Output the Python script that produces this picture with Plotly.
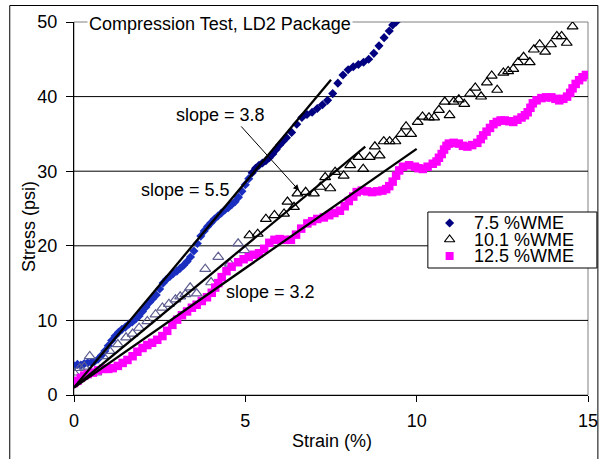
import plotly.graph_objects as go

# Compression test data, LD2 package: strain (%) vs stress (psi)
wme_75_strain = [0.00, 0.10, 0.20, 0.30, 0.40, 0.50, 0.60, 0.70, 0.80, 0.90,
                 1.00, 1.10, 1.20, 1.30, 1.40, 1.50, 1.60, 1.70, 1.80, 1.90,
                 2.00, 2.10, 2.20, 2.30, 2.40, 2.50, 2.60, 2.70, 2.80, 2.90,
                 3.00, 3.10, 3.20, 3.30, 3.40, 3.50, 3.60, 3.70, 3.80, 3.90,
                 4.00, 4.10, 4.20, 4.30, 4.40, 4.50, 4.60, 4.70, 4.80, 4.90,
                 5.00, 5.10, 5.20, 5.30, 5.40, 5.50, 5.60, 5.70, 5.80, 5.90,
                 6.00, 6.10, 6.20, 6.35, 6.50, 6.65, 6.80, 6.95, 7.10, 7.25,
                 7.40, 7.55, 7.70, 7.85, 8.00, 8.15, 8.30, 8.45, 8.60, 8.75,
                 8.90, 9.05, 9.20, 9.30, 9.40]
wme_75_stress = [3.9, 4.1, 4.0, 4.2, 4.3, 4.4, 4.5, 4.8, 5.3, 5.9,
                 6.6, 7.3, 7.9, 8.4, 8.8, 9.1, 9.5, 9.8, 10.2, 10.6,
                 11.2, 11.8, 12.4, 12.9, 13.4, 14.2, 15.0, 15.5, 15.9, 16.3,
                 16.6, 17.0, 17.4, 17.9, 18.5, 19.3, 20.3, 21.3, 22.0, 22.6,
                 23.1, 23.6, 24.0, 24.4, 24.8, 25.1, 25.5, 25.9, 26.5, 27.3,
                 28.2, 29.0, 29.8, 30.4, 30.8, 31.1, 31.4, 31.8, 32.3, 32.9,
                 33.5, 34.0, 34.5, 35.2, 36.3, 37.2, 37.6, 37.9, 38.4, 38.9,
                 39.5, 40.4, 41.8, 42.9, 43.6, 44.0, 44.3, 44.6, 45.0, 45.8,
                 46.8, 47.9, 48.8, 49.6, 50.0]

wme_101_strain = [0.00, 0.17, 0.30, 0.46, 0.65, 0.85, 1.04, 1.28, 1.52, 1.71,
                  1.90, 2.14, 2.38, 2.58, 2.77, 2.96, 3.10, 3.25, 3.39, 3.58,
                  3.83, 4.00, 4.21, 4.55, 4.79, 4.98, 5.12, 5.36, 5.60, 5.85,
                  6.13, 6.23, 6.42, 6.52, 6.76, 7.00, 7.19, 7.33, 7.48, 7.62,
                  7.87, 8.06, 8.30, 8.44, 8.63, 8.78, 8.92, 9.04, 9.21, 9.38,
                  9.55, 9.69, 9.84, 10.03, 10.17, 10.36, 10.51, 10.65, 10.82, 10.96,
                  11.08, 11.23, 11.39, 11.56, 11.71, 11.88, 12.05, 12.19, 12.35, 12.53,
                  12.67, 12.82, 12.96, 13.12, 13.30, 13.42, 13.59, 13.75, 13.92, 14.09,
                  14.23, 14.38, 14.55]
wme_101_stress = [3.0, 3.6, 3.8, 5.2, 3.0, 5.2, 5.9, 6.8, 7.7, 8.2,
                  9.0, 9.9, 10.8, 11.7, 12.2, 12.8, 13.2, 13.5, 14.4, 13.6,
                  16.9, 15.1, 18.5, 17.6, 20.3, 19.4, 21.4, 21.6, 23.6, 24.1,
                  24.3, 25.9, 25.2, 27.0, 27.2, 27.0, 27.9, 29.2, 27.7, 29.9,
                  29.4, 30.8, 31.9, 30.3, 31.9, 33.3, 32.1, 34.0, 34.0, 34.0,
                  35.0, 36.0, 35.0, 36.6, 37.3, 37.2, 37.2, 38.2, 39.3, 37.5,
                  39.3, 39.6, 39.0, 40.4, 41.2, 40.0, 41.9, 42.8, 40.9, 43.2,
                  43.4, 43.7, 44.6, 45.3, 44.6, 46.3, 47.0, 46.0, 47.0, 48.1,
                  48.1, 47.2, 49.4]

wme_125_strain = [0.00, 0.10, 0.20, 0.30, 0.40, 0.55, 0.70, 0.85, 1.00, 1.13,
                  1.28, 1.42, 1.56, 1.71, 1.85, 2.00, 2.14, 2.28, 2.43, 2.58,
                  2.72, 2.87, 3.01, 3.15, 3.30, 3.44, 3.58, 3.73, 3.88, 4.02,
                  4.12, 4.21, 4.31, 4.45, 4.60, 4.79, 4.95, 5.10, 5.25, 5.40,
                  5.55, 5.70, 5.85, 6.00, 6.15, 6.33, 6.48, 6.63, 6.81, 6.95,
                  7.10, 7.29, 7.45, 7.60, 7.76, 7.90, 8.02, 8.15, 8.25, 8.40,
                  8.55, 8.70, 8.85, 9.00, 9.11, 9.20, 9.30, 9.40, 9.49, 9.60,
                  9.78, 9.95, 10.05, 10.18, 10.32, 10.47, 10.58, 10.65, 10.73, 10.80,
                  10.87, 10.94, 11.08, 11.23, 11.35, 11.48, 11.62, 11.77, 11.87, 11.94,
                  12.04, 12.14, 12.24, 12.34, 12.45, 12.57, 12.70, 12.82, 12.94, 13.06,
                  13.16, 13.24, 13.32, 13.39, 13.50, 13.64, 13.78, 13.93, 14.05, 14.16,
                  14.28, 14.39, 14.48, 14.55, 14.64, 14.74, 14.84, 14.94]
wme_125_stress = [1.6, 1.9, 2.3, 2.6, 2.8, 3.0, 3.3, 3.5, 3.5, 3.6,
                  3.9, 4.3, 4.7, 5.2, 5.8, 6.3, 6.7, 7.0, 7.4, 7.9,
                  8.6, 9.4, 10.1, 10.7, 11.2, 11.7, 12.1, 12.6, 13.1, 13.7,
                  14.4, 15.0, 15.8, 16.6, 17.2, 17.8, 18.2, 18.5, 18.8, 19.0,
                  19.6, 20.4, 20.8, 20.9, 20.8, 20.8, 21.5, 22.3, 23.0, 23.3,
                  23.6, 23.8, 24.1, 24.4, 24.7, 25.3, 26.0, 26.6, 27.2, 27.4,
                  27.3, 27.2, 27.3, 27.4, 27.6, 28.0, 28.6, 29.4, 30.1, 30.6,
                  30.8, 30.6, 30.4, 30.3, 30.6, 31.0, 31.3, 31.8, 32.3, 32.9,
                  33.4, 33.7, 33.8, 33.7, 33.4, 33.3, 33.5, 33.8, 34.3, 34.8,
                  35.3, 35.8, 36.3, 36.6, 36.8, 36.8, 36.7, 36.6, 36.9, 37.2,
                  37.5, 37.9, 38.5, 39.1, 39.5, 39.8, 39.9, 39.9, 39.7, 39.5,
                  39.7, 40.0, 40.5, 41.1, 41.7, 42.2, 42.6, 42.9]

series_names = ["7.5 %WME", "10.1 %WME", "12.5 %WME"]

# Linear fits through the loading region
fit_slopes = [5.5, 3.8, 3.2]
fit_intercept = 1.0
fit_end_strain = [7.5, 8.5, 10.0]
slope_labels = ["slope = 5.5", "slope = 3.8", "slope = 3.2"]

x_ticks = [0, 5, 10, 15]
y_ticks = [0, 10, 20, 30, 40, 50]

FONT = "Liberation Sans, Arial, sans-serif"
W, H = 610, 459
ML, MR, MT, MB = 74, 16, 22, 64
PW, PH = W - ML - MR, H - MT - MB


def fx(px):
    return (px - ML) / PW


def fy(py):
    return (H - MB - py) / PH


fig = go.Figure()

diamond_colors = ["#1a2fc0" if s < 5.2 else "#000080" for s in wme_75_strain]
fig.add_trace(go.Scatter(
    x=wme_75_strain, y=wme_75_stress, mode="markers", name=series_names[0],
    marker=dict(symbol="diamond", size=7, color=diamond_colors, line=dict(width=0)),
))
tri_colors = ["#5e5e90" if s < 5.05 else "#000000" for s in wme_101_strain]
fig.add_trace(go.Scatter(
    x=wme_101_strain, y=wme_101_stress, mode="markers", name=series_names[1],
    marker=dict(symbol="triangle-up-open", size=9.5, color=tri_colors,
                line=dict(width=1.2, color=tri_colors)),
))
fig.add_trace(go.Scatter(
    x=wme_125_strain, y=wme_125_stress, mode="markers", name=series_names[2],
    marker=dict(symbol="square", size=8.5, color="#ff00ff", line=dict(width=0)),
))

for m, xe in zip(fit_slopes, fit_end_strain):
    fig.add_trace(go.Scatter(
        x=[0, xe], y=[fit_intercept, fit_intercept + m * xe], mode="lines",
        line=dict(color="black", width=2.3), showlegend=False, hoverinfo="skip",
    ))

# Hand-built legend box with tight row spacing
leg_x0, leg_x1, leg_y0, leg_y1 = 432, 603, 212, 268
leg_marker_px = 454
leg_text_px = 477
leg_rows_py = [223, 239.5, 256]
leg_symbols = [("diamond", "#000080", 7, None),
               ("triangle-up-open", "black", 9, "black"),
               ("square", "#ff00ff", 8, None)]
xr, yr = x_ticks[-1], y_ticks[-1]
for (sym, col, sz, lc), py in zip(leg_symbols, leg_rows_py):
    mk = dict(symbol=sym, size=sz, color=col)
    if lc:
        mk["line"] = dict(color=lc, width=1.2)
    fig.add_trace(go.Scatter(
        x=[fx(leg_marker_px) * xr], y=[fy(py) * yr], mode="markers",
        marker=mk, showlegend=False, hoverinfo="skip", cliponaxis=False,
    ))

shapes = []
# plot-area frame (grey), gridlines (black)
shapes.append(dict(type="rect", xref="paper", yref="paper", x0=0, x1=1, y0=0, y1=1,
                   line=dict(color="#808080", width=1), layer="below"))
for v in y_ticks[1:-1]:
    shapes.append(dict(type="line", xref="paper", yref="y", x0=0, x1=1, y0=v, y1=v,
                       line=dict(color="black", width=1), layer="below"))
# legend box
shapes.append(dict(type="rect", xref="paper", yref="paper",
                   x0=fx(leg_x0), x1=fx(leg_x1), y0=fy(leg_y1), y1=fy(leg_y0),
                   line=dict(color="black", width=1), fillcolor="white", layer="between"))
# outer chart frame
shapes.append(dict(type="rect", xref="paper", yref="paper",
                   x0=fx(9), x1=fx(604), y0=fy(470), y1=fy(5.5),
                   line=dict(color="black", width=1), layer="above"))

annotations = []
for name, py in zip(series_names, leg_rows_py):
    annotations.append(dict(text=name, xref="paper", yref="paper", x=fx(leg_text_px),
                            y=fy(py), xanchor="left", yanchor="middle", showarrow=False,
                            font=dict(family=FONT, size=18, color="black")))

annotations.append(dict(text="Compression Test, LD2 Package", xref="paper", yref="paper",
                        x=fx(222), y=fy(24), xanchor="center", yanchor="middle",
                        showarrow=False, bgcolor="white", borderpad=1,
                        font=dict(family=FONT, size=18, color="black")))
annotations.append(dict(text="Stress (psi)", xref="paper", yref="paper",
                        x=fx(28.5), y=fy(227), textangle=-90, showarrow=False,
                        xanchor="center", yanchor="middle",
                        font=dict(family=FONT, size=18, color="black")))
annotations.append(dict(text="Strain (%)", xref="paper", yref="paper",
                        x=fx(335), y=fy(441), showarrow=False,
                        xanchor="center", yanchor="middle",
                        font=dict(family=FONT, size=18, color="black")))

label_pos = [(3.26, 27.5), (4.27, 37.5), (5.74, 13.8)]
for txt, (lx, ly) in zip(slope_labels, label_pos):
    annotations.append(dict(text=txt, x=lx, y=ly, xref="x", yref="y", showarrow=False,
                            xanchor="center", yanchor="middle",
                            font=dict(family=FONT, size=18, color="black")))

# arrow pointing from the 3.8 label to its fit line
annotations.append(dict(text="", x=6.57, y=27.4, ax=4.84, ay=36.2, xref="x", yref="y",
                        axref="x", ayref="y", showarrow=True, arrowhead=2,
                        arrowsize=1.2, arrowwidth=1, arrowcolor="black"))

fig.update_layout(
    width=W, height=H,
    margin=dict(l=ML, r=MR, t=MT, b=MB, pad=0),
    paper_bgcolor="white", plot_bgcolor="white",
    showlegend=False,
    font=dict(family=FONT, size=18, color="black"),
    shapes=shapes, annotations=annotations,
    xaxis=dict(range=[0, 15], tickvals=x_ticks, ticks="outside", ticklen=6,
               tickcolor="black", showline=True, linecolor="black", linewidth=1,
               showgrid=False, zeroline=False, ticklabelstandoff=3,
               tickfont=dict(family=FONT, size=18, color="black")),
    yaxis=dict(range=[0, 50], tickvals=y_ticks, ticks="outside", ticklen=7,
               tickcolor="black", showline=True, linecolor="black", linewidth=1,
               showgrid=False, zeroline=False, ticklabelstandoff=5,
               tickfont=dict(family=FONT, size=18, color="black")),
)

fig.write_html("out.html")
